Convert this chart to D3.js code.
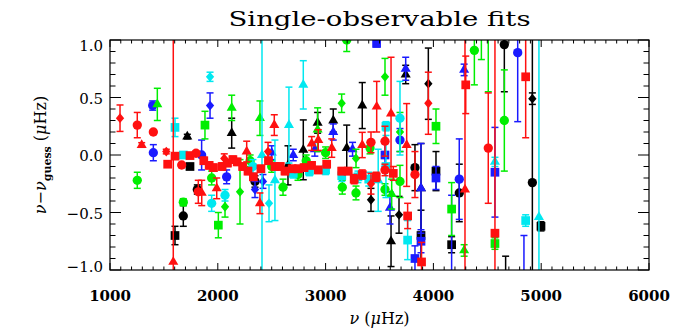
<!DOCTYPE html>
<html>
<head>
<meta charset="utf-8">
<script src="https://cdn.jsdelivr.net/npm/d3@7"></script>
<style>
  body { margin: 0; background: #fff; }
  svg { display: block; }
</style>
</head>
<body>
<div id="chart"></div>
<script>
// Single-observable fits : nu - nu_guess vs nu, 5 couleurs x 4 symboles
// chaque point : [nu (µHz), nu - nu_guess (µHz), erreur (µHz), symbole]

const xTicks = [1000, 2000, 3000, 4000, 5000, 6000]
const yTicks = [-1.0, -0.5, 0.0, 0.5, 1.0]

const blackPts = [
  [1603, -0.70, 0.08, "s"], [1717, 0.16, 0.02, "t"], [1742, -0.10, 0.02, "s"],
  [1680, -0.53, 0.09, "c"], [1810, -0.30, 0.04, "c"], [2129, 0.19, 0.13, "t"],
  [2345, -0.23, 0.05, "c"], [2651, -0.09, 0.17, "t"], [2793, 0.045, 0.26, "t"],
  [2926, 0.28, 0.09, "t"], [3071, 0.30, 0.10, "t"], [3196, 0.06, 0.20, "t"],
  [3340, 0.43, 0.20, "t"], [3421, -0.39, 0.10, "d"], [3607, -0.75, 0.22, "t"],
  [3681, -0.52, 0.16, "d"], [3743, 0.70, 0.08, "t"], [3829, -0.11, 0.20, "c"],
  [3885, -0.29, 0.39, "t"], [3885, -0.70, 0.22, "s"], [3953, 0.62, 0.31, "d"],
  [4024, -0.14, 0.17, "s"], [4169, -0.78, 0.07, "s"], [4240, -0.33, 0.25, "c"],
  [4658, 0.96, 0.41, "c"], [4670, -1.15, 0.27, "c"], [4918, 0.49, 0.05, "d"],
  [4918, -0.24, 3.0, "c"], [4998, -0.62, 0.04, "s"],
]

const bluePts = [
  [1396, 0.43, 0.04, "c"], [1402, 0.02, 0.07, "c"], [1850, 0.00, 0.13, "c"],
  [1928, 0.43, 0.11, "d"], [2082, -0.19, 0.06, "c"], [2345, -0.30, 0.07, "d"],
  [2419, -0.23, 0.06, "d"], [2500, 0.02, 0.06, "t"], [2700, 0.00, 0.05, "t"],
  [2900, 0.05, 0.06, "t"], [3071, 0.20, 0.07, "t"], [3250, 0.05, 0.06, "t"],
  [3473, 0.97, 0.03, "s"], [3551, 0.00, 0.10, "s"], [3597, -0.46, 0.14, "t"],
  [3690, 0.13, 0.10, "c"], [3743, 0.75, 0.10, "t"], [3829, -0.90, 0.11, "s"],
  [3885, -0.29, 0.39, "t"], [3885, -0.75, 0.10, "s"], [4024, -0.20, 0.10, "s"],
  [4169, -1.30, 0.95, "s"], [4240, -0.21, 0.35, "c"], [4285, 0.74, 0.05, "t"],
  [4571, -0.15, 0.39, "s"], [4782, 0.89, 0.60, "c"], [4840, -1.25, 0.55, "c"],
]

const greenPts = [
  [1253, -0.22, 0.07, "c"], [1439, 0.44, 0.14, "t"], [1680, -0.41, 0.03, "c"],
  [1881, 0.26, 0.12, "s"], [1943, -0.20, 0.06, "c"], [2005, -0.61, 0.11, "s"],
  [2067, -0.45, 0.09, "d"], [2129, 0.41, 0.11, "t"], [2206, -0.32, 0.28, "d"],
  [2300, -0.05, 0.05, "c"], [2391, 0.32, 0.15, "t"], [2500, -0.10, 0.05, "c"],
  [2605, -0.28, 0.07, "c"], [2744, -0.17, 0.05, "c"], [2820, -0.05, 0.05, "c"],
  [2926, 0.22, 0.19, "t"], [3000, 0.02, 0.05, "c"], [3149, 0.45, 0.08, "d"],
  [3155, -0.28, 0.06, "c"], [3196, 1.00, 0.10, "c"], [3282, -0.33, 0.06, "c"],
  [3282, -0.03, 0.08, "d"], [3412, 0.06, 0.05, "c"], [3551, -0.30, 0.05, "c"],
  [3551, 0.68, 0.16, "d"], [3613, -0.34, 0.13, "t"], [3690, 0.20, 0.17, "d"],
  [3690, -0.23, 0.14, "c"], [4024, 0.25, 0.15, "s"], [4169, -0.47, 0.23, "s"],
  [4285, -0.83, 0.05, "t"], [4380, 0.91, 0.30, "c"], [4445, 1.20, 0.37, "t"],
  [4509, 1.25, 0.70, "d"], [4571, -0.77, 0.05, "s"], [4658, 0.30, 0.44, "c"],
]

const cyanPts = [
  [1603, 0.24, 0.08, "s"], [1680, 0.00, 0.02, "s"], [1928, 0.68, 0.04, "d"],
  [1943, -0.42, 0.07, "c"], [2067, -0.35, 0.05, "c"], [2326, -0.10, 0.06, "c"],
  [2410, 0.00, 3.0, "t"], [2475, -0.42, 0.16, "d"], [2530, -0.22, 0.35, "t"],
  [2660, 0.26, 0.33, "t"], [2700, -0.16, 0.04, "s"], [2793, 0.61, 0.21, "t"],
  [2850, -0.14, 0.04, "s"], [3000, -0.13, 0.04, "s"], [3150, -0.18, 0.05, "s"],
  [3300, -0.19, 0.05, "s"], [3400, -0.21, 0.06, "s"], [3488, -0.22, 0.27, "t"],
  [3560, 0.25, 0.04, "s"], [3560, -0.10, 0.27, "s"], [3690, 0.32, 0.32, "c"],
  [3761, -0.74, 0.17, "s"], [4571, -0.06, 0.04, "t"], [4856, -0.57, 0.05, "s"],
  [4979, -0.54, 3.0, "t"],
]

const redPts = [
  [1093, 0.32, 0.115, "d"], [1253, 0.26, 0.11, "c"], [1294, 0.087, 0.02, "t"],
  [1402, 0.20, 0.02, "c"], [1522, 0.03, 0.02, "d"], [1535, -0.08, 0.02, "s"],
  [1587, -0.93, 3.0, "t"], [1603, -0.01, 0.02, "s"], [1665, -0.087, 0.02, "c"],
  [1742, -0.005, 0.02, "s"], [1798, 0.015, 0.02, "c"], [1819, -0.32, 0.10, "c"],
  [1851, -0.33, 0.11, "t"], [1870, -0.05, 0.03, "s"], [1920, -0.09, 0.03, "s"],
  [1960, -0.11, 0.03, "s"], [1990, -0.29, 0.09, "t"], [2040, -0.10, 0.03, "s"],
  [2060, -0.03, 0.04, "d"], [2090, -0.07, 0.03, "s"], [2140, -0.04, 0.03, "s"],
  [2180, -0.06, 0.03, "s"], [2230, -0.10, 0.03, "s"], [2268, 0.03, 0.09, "t"],
  [2280, -0.14, 0.03, "s"], [2330, -0.19, 0.03, "s"], [2391, -0.42, 0.09, "t"],
  [2400, -0.12, 0.03, "s"], [2466, 0.03, 0.08, "d"], [2470, -0.05, 0.03, "s"],
  [2524, 0.26, 0.09, "t"], [2530, -0.10, 0.03, "s"], [2580, -0.10, 0.03, "s"],
  [2623, -0.14, 0.03, "s"], [2690, -0.12, 0.03, "s"], [2747, -0.12, 0.03, "s"],
  [2800, -0.11, 0.03, "s"], [2871, 0.10, 0.06, "t"], [2870, -0.09, 0.03, "s"],
  [2932, 0.13, 0.09, "t"], [2932, -0.13, 0.03, "s"], [3010, -0.08, 0.03, "s"],
  [3057, 0.06, 0.08, "t"], [3149, -0.14, 0.03, "s"], [3210, -0.14, 0.03, "s"],
  [3265, -0.21, 0.04, "s"], [3340, 0.087, 0.11, "t"], [3340, -0.17, 0.04, "s"],
  [3421, 0.11, 0.09, "c"], [3421, -0.25, 0.09, "d"], [3470, -0.19, 0.04, "s"],
  [3474, 0.42, 0.22, "t"], [3551, 0.12, 0.13, "c"], [3551, -0.13, 0.05, "c"],
  [3607, 0.36, 0.49, "t"], [3628, -0.16, 0.06, "s"], [3752, 0.087, 0.36, "t"],
  [3761, -0.53, 0.11, "s"], [3829, -0.17, 0.20, "c"], [3890, -0.93, 0.17, "s"],
  [3953, 0.45, 0.27, "d"], [4293, -0.30, 3.0, "t"], [4300, 0.61, 0.25, "s"],
  [4509, 0.06, 0.48, "c"], [4571, -0.68, 3.0, "s"], [4856, 0.68, 0.53, "s"],
]

const series = [
  { color: "#000000", pts: blackPts },
  { color: "#1a1aff", pts: bluePts },
  { color: "#00ee00", pts: greenPts },
  { color: "#00e8f0", pts: cyanPts },
  { color: "#ff1010", pts: redPts },
]

const W = 674, H = 330
const margin = { top: 40, right: 25, bottom: 60, left: 110 }
const width = 539
const height = 230

const svg = d3.select("#chart").append("svg")
  .attr("width", W).attr("height", H)
  .attr("font-family", "'DejaVu Serif', 'Liberation Serif', serif")

const x = d3.scaleLinear().domain([1000, 6000]).range([0, width])
const y = d3.scaleLinear().domain([-1, 1]).range([height, 0])

// Titre
svg.append("text")
  .attr("x", margin.left + width / 2).attr("y", 26)
  .attr("text-anchor", "middle").attr("font-size", 20)
  .attr("textLength", 302).attr("lengthAdjust", "spacingAndGlyphs")
  .text("Single-observable fits")

const g = svg.append("g").attr("transform", `translate(${margin.left},${margin.top})`)

svg.append("defs").append("clipPath").attr("id", "plot")
  .append("rect").attr("x", 0).attr("y", 0).attr("width", width).attr("height", height)

const plot = g.append("g").attr("clip-path", "url(#plot)")

// Symbole losange plus large que celui de d3
const diamond = {
  draw(ctx, size) {
    const h = Math.sqrt(size) * 0.62, w = h * 0.85
    ctx.moveTo(0, -h); ctx.lineTo(w, 0); ctx.lineTo(0, h); ctx.lineTo(-w, 0); ctx.closePath()
  }
}
const symType = { c: d3.symbolCircle, s: d3.symbolSquare, t: d3.symbolTriangle, d: diamond }
const symSize = { c: 68, s: 76, t: 44, d: 62 }

series.forEach((s) => {
  const grp = plot.append("g")
  // barres d'erreur
  grp.selectAll("line.err")
    .data(s.pts)
    .join("line")
    .attr("class", "err")
    .attr("x1", (p) => x(p[0])).attr("x2", (p) => x(p[0]))
    .attr("y1", (p) => y(p[1] - p[2])).attr("y2", (p) => y(p[1] + p[2]))
    .attr("stroke", s.color).attr("stroke-width", 1.5)
  ;[-1, 1].forEach((sgn) => {
    grp.selectAll(`line.cap${sgn}`)
      .data(s.pts)
      .join("line")
      .attr("class", `cap${sgn}`)
      .attr("x1", (p) => x(p[0]) - 3.5).attr("x2", (p) => x(p[0]) + 3.5)
      .attr("y1", (p) => y(p[1] + sgn * p[2])).attr("y2", (p) => y(p[1] + sgn * p[2]))
      .attr("stroke", s.color).attr("stroke-width", 1.5)
  })
  grp.selectAll("path.sym")
    .data(s.pts)
    .join("path")
    .attr("class", "sym")
    .attr("transform", (p) => `translate(${x(p[0])},${y(p[1])})`)
    .attr("d", (p) => d3.symbol(symType[p[3]], symSize[p[3]])())
    .attr("fill", s.color)
})

// Cadre + graduations (style IDL, vers l'intérieur, sur les 4 côtés)
g.append("rect")
  .attr("width", width).attr("height", height)
  .attr("fill", "none").attr("stroke", "#000").attr("stroke-width", 1.2)

const xMinor = d3.range(1000, 6001, 100)
const yMinor = d3.range(-10, 11).map((i) => i / 10)
const isMajorX = (v) => v % 1000 === 0
const isMajorY = (v) => Math.abs(v * 2 - Math.round(v * 2)) < 1e-6

const ticks = g.append("g").attr("stroke", "#000").attr("stroke-width", 1)
xMinor.forEach((v) => {
  const len = isMajorX(v) ? 7 : 3.5
  ticks.append("line").attr("x1", x(v)).attr("x2", x(v)).attr("y1", height).attr("y2", height - len)
  ticks.append("line").attr("x1", x(v)).attr("x2", x(v)).attr("y1", 0).attr("y2", len)
})
yMinor.forEach((v) => {
  const len = isMajorY(v) ? 11 : 5.5
  ticks.append("line").attr("x1", 0).attr("x2", len).attr("y1", y(v)).attr("y2", y(v))
  ticks.append("line").attr("x1", width).attr("x2", width - len).attr("y1", y(v)).attr("y2", y(v))
})

// Libellés des graduations
g.selectAll("text.xt")
  .data(xTicks)
  .join("text")
  .attr("class", "xt")
  .attr("x", (v) => x(v)).attr("y", height + 31)
  .attr("text-anchor", "middle").attr("font-size", 15).attr("font-weight", "bold")
  .text((v) => v)

// les libellés extrêmes sont rentrés vers l'intérieur, comme dans IDL
g.selectAll("text.yt")
  .data(yTicks)
  .join("text")
  .attr("class", "yt")
  .attr("x", -7).attr("y", (v) => y(v) + 6 + (v === 1 ? 5 : v === -1 ? -4 : 0))
  .attr("text-anchor", "end").attr("font-size", 15)
  .text((v) => (v < 0 ? "\u2212" : "") + Math.abs(v).toFixed(1))

// Titres d'axes
const xl = svg.append("text")
  .attr("x", margin.left + width / 2).attr("y", 324)
  .attr("text-anchor", "middle").attr("font-size", 16)
xl.append("tspan").attr("font-style", "italic").text("\u03BD")
xl.append("tspan").text(" (")
xl.append("tspan").attr("font-style", "italic").text("\u03BC")
xl.append("tspan").text("Hz)")

const yl = svg.append("text")
  .attr("transform", `translate(46,${margin.top + height / 2}) rotate(-90)`)
  .attr("text-anchor", "middle").attr("font-size", 16)
yl.append("tspan").attr("font-style", "italic").text("\u03BD\u2212\u03BD")
yl.append("tspan").attr("font-size", 11).attr("font-weight", "bold").attr("dy", 5).text("guess")
yl.append("tspan").attr("dy", -5).text(" (")
yl.append("tspan").attr("font-style", "italic").text("\u03BC")
yl.append("tspan").text("Hz)")
</script>
</body>
</html>
